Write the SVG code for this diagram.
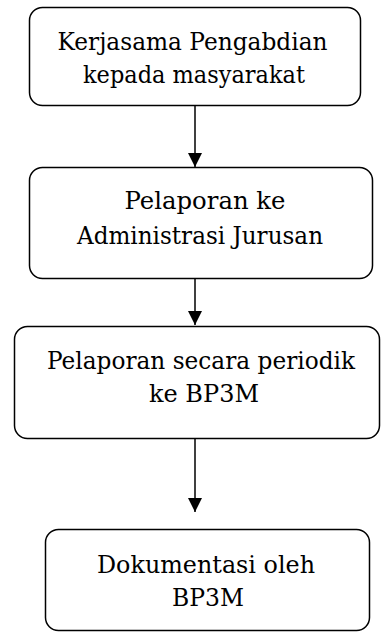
<svg xmlns="http://www.w3.org/2000/svg" width="381" height="633" viewBox="0 0 381 633">
<style>
.box{fill:#fff;stroke:#000;stroke-width:1.5}
.t{font-family:'DejaVu Serif',serif;font-size:25px;fill:#000;text-anchor:middle}
.c{stroke:#000;stroke-width:1.5;fill:none}
</style>
<defs>
<marker id="ah" markerWidth="14" markerHeight="14" refX="13" refY="6.5" orient="auto" markerUnits="userSpaceOnUse" viewBox="0 0 13 13">
<path d="M0,0 L13,6.5 L0,13 Z" fill="#000"/>
</marker>
</defs>
<rect width="381" height="633" fill="#fff"/>
<g id="connectors">
<line class="c" x1="195" y1="106" x2="195" y2="167" marker-end="url(#ah)"/>
<line class="c" x1="195" y1="279" x2="195" y2="325" marker-end="url(#ah)"/>
<line class="c" x1="195" y1="438" x2="195" y2="512" marker-end="url(#ah)"/>
</g>
<g id="n1">
<rect class="box" x="29.5" y="7.5" width="331" height="98" rx="13"/>
<text class="t" x="192.5" y="50" textLength="270" lengthAdjust="spacingAndGlyphs">Kerjasama Pengabdian</text>
<text class="t" x="194" y="83" textLength="222" lengthAdjust="spacingAndGlyphs">kepada masyarakat</text>
</g>
<g id="n2">
<rect class="box" x="29.5" y="167.5" width="343" height="111" rx="13"/>
<text class="t" x="205" y="209" textLength="161" lengthAdjust="spacingAndGlyphs">Pelaporan ke</text>
<text class="t" x="200" y="244" textLength="246" lengthAdjust="spacingAndGlyphs">Administrasi Jurusan</text>
</g>
<g id="n3">
<rect class="box" x="14.5" y="326.5" width="365" height="112" rx="13"/>
<text class="t" x="201" y="369" textLength="308" lengthAdjust="spacingAndGlyphs">Pelaporan secara periodik</text>
<text class="t" x="204" y="402" textLength="110" lengthAdjust="spacingAndGlyphs">ke BP3M</text>
</g>
<g id="n4">
<rect class="box" x="45.5" y="529.5" width="324" height="101" rx="13"/>
<text class="t" x="206" y="573" textLength="218" lengthAdjust="spacingAndGlyphs">Dokumentasi oleh</text>
<text class="t" x="208" y="606" textLength="72" lengthAdjust="spacingAndGlyphs">BP3M</text>
</g>
</svg>
